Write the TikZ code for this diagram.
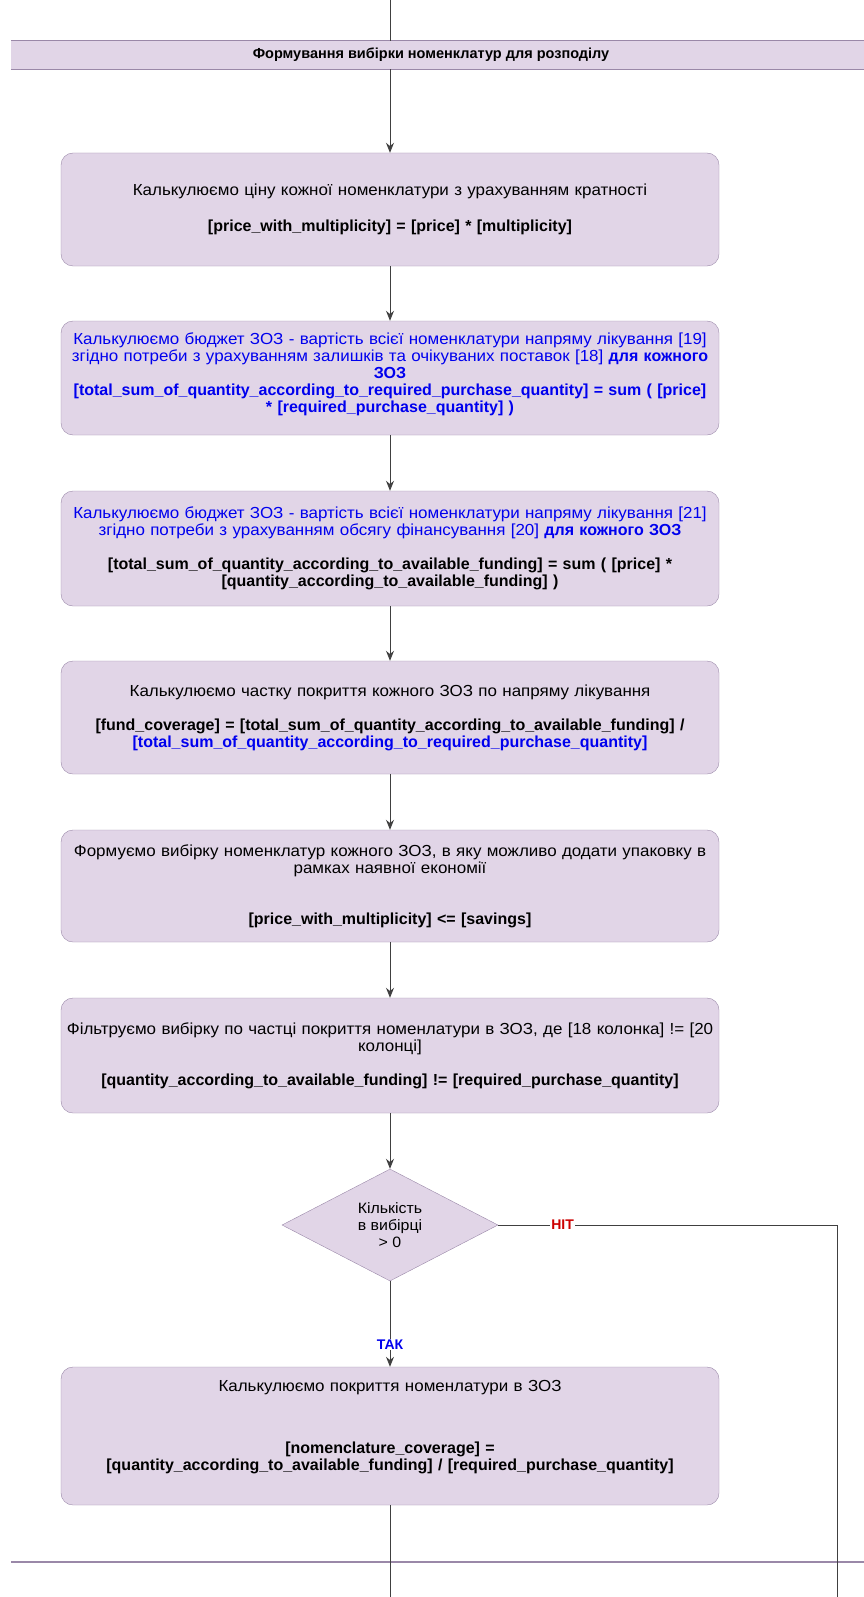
\documentclass[tikz,border=0pt]{standalone}
\usepackage{fontspec}
\setmainfont{Liberation Sans}[UprightFeatures={FakeStretch=1.06}]
\usetikzlibrary{shapes.geometric,arrows.meta}
\definecolor{boxfill}{HTML}{E1D5E7}
\definecolor{boxline}{HTML}{9A88A8}
\definecolor{txtblue}{HTML}{0000EE}
\definecolor{txtred}{HTML}{CC0000}
\begin{document}
\begin{tikzpicture}[x=1pt,y=-1pt,
  stepbox/.style={draw=boxline, fill=boxfill, rounded corners=12pt, minimum width=658pt,
    text width=654pt, align=center, inner sep=0pt, font=\fontsize{16}{17}\selectfont},
  decision/.style={diamond, draw=boxline, fill=boxfill, minimum width=216pt, minimum height=112pt,
    aspect=1.93, inner sep=0pt, align=center, font=\fontsize{15}{17}\selectfont},
  lanehead/.style={fill=boxfill, minimum width=853pt, minimum height=28pt, inner sep=0pt},
  laneline/.style={draw=boxline, line width=1.2pt},
  line/.style={draw=black!75, line width=0.9pt},
  flow/.style={line, -{Stealth[length=10pt,width=8pt]}},
  tag/.style={fill=white, inner sep=1pt, font=\fontsize{14}{16}\selectfont\bfseries},
]
\useasboundingbox (0,0) rectangle (864,1597);

% swimlane header
\node [lanehead] (lane) at (437.5,55) {};
\draw [laneline] (lane.north west) -- (lane.north east);
\draw [laneline] (lane.south west) -- (lane.south east);
\node [font=\fontsize{14.5}{17}\selectfont\bfseries] (title) at (431,55) {Формування вибірки номенклатур для розподілу};

\node [stepbox, minimum height=113pt] (b1) at (390,209.5) {Калькулюємо ціну кожної номенклатури з урахуванням кратності\\[19pt]
  \bfseries [price\_with\_multiplicity] = [price] * [multiplicity]};

\node [stepbox, minimum height=114pt, text=txtblue] (b2) at (390,378) {Калькулюємо бюджет ЗОЗ - вартість всієї номенклатури напряму лікування [19]\\
  згідно потреби з урахуванням залишків та очікуваних поставок [18] \textbf{для кожного}\\
  \textbf{ЗОЗ}\\
  \textbf{[total\_sum\_of\_quantity\_according\_to\_required\_purchase\_quantity] = sum ( [price]}\\
  \textbf{* [required\_purchase\_quantity] )}\\[-7pt]\mbox{}};

\node [stepbox, minimum height=115pt] (b3) at (390,548.5) {\textcolor{txtblue}{Калькулюємо бюджет ЗОЗ - вартість всієї номенклатури напряму лікування [21]}\\
  \textcolor{txtblue}{згідно потреби з урахуванням обсягу фінансування [20] \textbf{для кожного ЗОЗ}}\\[17pt]
  \bfseries [total\_sum\_of\_quantity\_according\_to\_available\_funding] = sum ( [price] *\\
  \bfseries [quantity\_according\_to\_available\_funding] )};

\node [stepbox, minimum height=113pt] (b4) at (390,717.5) {Калькулюємо частку покриття кожного ЗОЗ по напряму лікування\\[17pt]
  \bfseries [fund\_coverage] = [total\_sum\_of\_quantity\_according\_to\_available\_funding] /\\
  \bfseries\color{txtblue} [total\_sum\_of\_quantity\_according\_to\_required\_purchase\_quantity]};

\node [stepbox, minimum height=112pt] (b5) at (390,886) {Формуємо вибірку номенклатур кожного ЗОЗ, в яку можливо додати упаковку в\\
  рамках наявної економії\\[34pt]
  \bfseries [price\_with\_multiplicity] <= [savings]};

\node [stepbox, minimum height=115pt] (b6) at (390,1055.5) {Фільтруємо вибірку по частці покриття номенлатури в ЗОЗ, де [18 колонка] != [20\\
  колонці]\\[17pt]
  \bfseries [quantity\_according\_to\_available\_funding] != [required\_purchase\_quantity]};

\node [decision] (d) at (390,1225) {Кількість\\в вибірці\\> 0};

\node [stepbox, minimum height=138pt] (b7) at (390,1436) {Калькулюємо покриття номенлатури в ЗОЗ\\[45pt]
  \bfseries [nomenclature\_coverage] =\\
  \bfseries [quantity\_according\_to\_available\_funding] / [required\_purchase\_quantity]\\[4pt]\mbox{}};

% lane border below
\coordinate (lw) at (11,1562);
\coordinate (le) at (864,1562);
\draw [laneline] (lw) -- (le);

% connectors
\coordinate (in) at (390,0);
\coordinate (outy) at (390,1597);
\coordinate (outn) at (837,1597);
\draw [line] (in) -- (in |- lane.north);
\draw [flow] (b1.north |- lane.south) -- (b1);
\draw [flow] (b1) -- (b2);
\draw [flow] (b2) -- (b3);
\draw [flow] (b3) -- (b4);
\draw [flow] (b4) -- (b5);
\draw [flow] (b5) -- (b6);
\draw [flow] (b6) -- (d);
\draw [flow] (d) -- node [tag, text=txtblue, pos=0.74] {ТАК} (b7);
\draw [line] (b7) -- (outy);
\draw [line] (d.east) -| node [tag, text=txtred, pos=0.095] {НІТ} (outn);

\end{tikzpicture}
\end{document}
